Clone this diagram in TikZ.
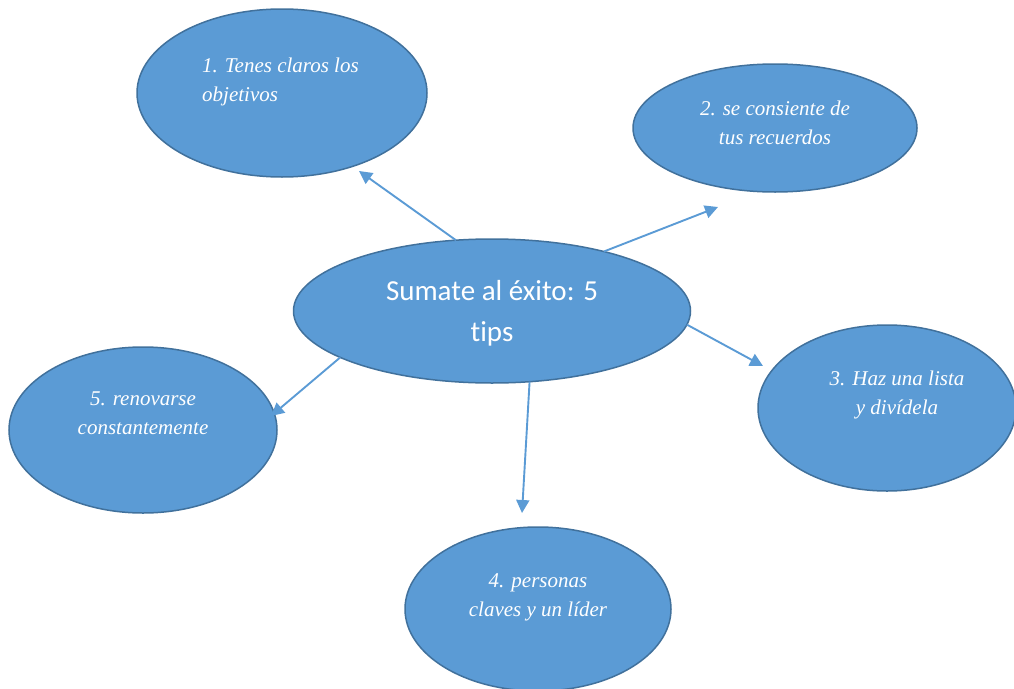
\documentclass[tikz,border=0pt]{standalone}
\usepackage{fontspec}
\setmainfont{Liberation Serif}
\newfontfamily\calib[Ligatures=NoCommon]{Carlito}
\usetikzlibrary{shapes.geometric,arrows.meta}
\definecolor{bfill}{HTML}{5B9BD5}
\definecolor{bline}{HTML}{41719C}
\tikzset{
  oval/.style={ellipse, draw=bline, fill=bfill, line width=1.5pt, inner sep=0pt, outer sep=0pt},
  tip/.style={text=white, font=\fontsize{21}{29}\selectfont\itshape, align=center, inner sep=0pt},
  conn/.style={draw=bfill, line width=1.9pt, -{Triangle[length=13pt,width=13pt]}}
}
\begin{document}
\begin{tikzpicture}[x=1pt,y=-1pt]
\useasboundingbox (0,0) rectangle (1014,688);
\node[oval, minimum width=290, minimum height=168] (e1) at (282,93) {};
\node[oval, minimum width=284, minimum height=128] (e2) at (775,128) {};
\node[oval, minimum width=258, minimum height=166] (e3) at (887,408) {};
\node[oval, minimum width=266, minimum height=164] (e4) at (538,609) {};
\node[oval, minimum width=268, minimum height=166] (e5) at (143,430) {};
\node[oval, minimum width=397, minimum height=144] (c) at (492,311) {};
\node[tip, align=left, anchor=west] (t1) at (202,82) {1. Tenes claros los\\objetivos};
\node[tip] (t2) at (775,123) {2. se consiente de\\tus recuerdos};
\node[tip] (t3) at (897,395) {3. Haz una lista\\y divídela};
\node[tip] (t4) at (538,597) {4. personas\\claves y un líder};
\node[tip] (t5) at (143,413) {5. renovarse\\constantemente};
\node[text=white, font=\calib\fontsize{29}{41}\selectfont, align=center, inner sep=0pt] (ct) at (492,313) {Sumate al éxito: 5\\tips};
\coordinate (p1) at (359,171);
\coordinate (p2) at (718,207);
\coordinate (p3) at (763,366);
\coordinate (p4) at (522,513);
\coordinate (p5) at (271,416);
\draw[conn] (c.117.5) -- (p1);
\draw[conn] (c.28.8) -- (p2);
\draw[conn] (c.-4.1) -- (p3);
\draw[conn] (c.-62.2) -- (p4);
\draw[conn] (c.-163.4) -- (p5);
\end{tikzpicture}
\end{document}
